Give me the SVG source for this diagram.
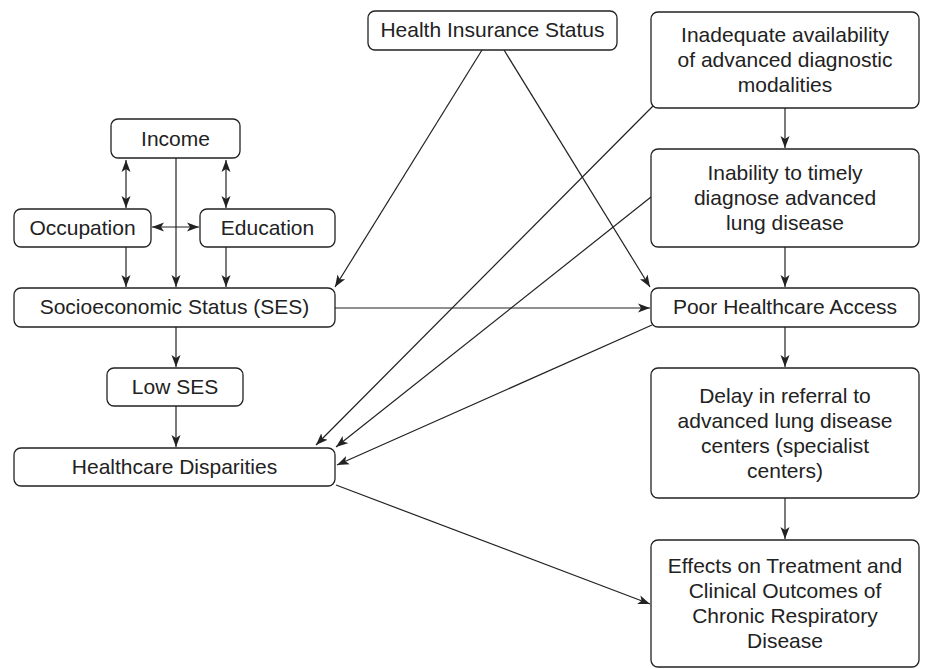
<svg xmlns="http://www.w3.org/2000/svg" width="926" height="669" viewBox="0 0 926 669">
<style>
.box{fill:#fff;stroke:#222;stroke-width:1.3}
.t{font-family:"Liberation Sans",Arial,sans-serif;font-size:21px;fill:#222;text-anchor:middle}
.c line{stroke:#222;stroke-width:1.2;fill:none}
</style>
<defs>
<marker id="ah" markerUnits="userSpaceOnUse" viewBox="0 0 12 10" markerWidth="12" markerHeight="10" refX="12" refY="5" orient="auto-start-reverse">
<path d="M0,0.5 L12,5 L0,9.5 L3,5 z" fill="#222"/>
</marker>
</defs>
<rect width="926" height="669" fill="#fff"/>
<g class="c" id="connectors">
<line x1="126" y1="160" x2="126" y2="208" marker-start="url(#ah)" marker-end="url(#ah)"/>
<line x1="226" y1="160" x2="226" y2="208" marker-start="url(#ah)" marker-end="url(#ah)"/>
<line x1="152" y1="227" x2="199" y2="227" marker-start="url(#ah)" marker-end="url(#ah)"/>
<line x1="176" y1="158" x2="176" y2="287" marker-end="url(#ah)"/>
<line x1="126" y1="247" x2="126" y2="287" marker-end="url(#ah)"/>
<line x1="226" y1="247" x2="226" y2="287" marker-end="url(#ah)"/>
<line x1="482" y1="50" x2="335" y2="287" marker-end="url(#ah)"/>
<line x1="504" y1="50" x2="650" y2="287" marker-end="url(#ah)"/>
<line x1="335" y1="308" x2="650" y2="308" marker-end="url(#ah)"/>
<line x1="176" y1="327" x2="176" y2="367" marker-end="url(#ah)"/>
<line x1="176" y1="406" x2="176" y2="447" marker-end="url(#ah)"/>
<line x1="653" y1="106" x2="316" y2="445" marker-end="url(#ah)"/>
<line x1="651" y1="197" x2="336" y2="447" marker-end="url(#ah)"/>
<line x1="652" y1="325" x2="337" y2="465" marker-end="url(#ah)"/>
<line x1="785" y1="108" x2="785" y2="148" marker-end="url(#ah)"/>
<line x1="785" y1="247" x2="785" y2="287" marker-end="url(#ah)"/>
<line x1="785" y1="327" x2="785" y2="367" marker-end="url(#ah)"/>
<line x1="785" y1="498" x2="785" y2="539" marker-end="url(#ah)"/>
<line x1="336" y1="485" x2="650" y2="604" marker-end="url(#ah)"/>
</g>
<g id="income"><rect class="box" x="111" y="119" width="129" height="39" rx="7"/><text class="t" x="175.5" y="146">Income</text></g>
<g id="occupation"><rect class="box" x="14" y="209" width="137" height="38" rx="7"/><text class="t" x="82.5" y="235">Occupation</text></g>
<g id="education"><rect class="box" x="200" y="209" width="135" height="38" rx="7"/><text class="t" x="267.5" y="235">Education</text></g>
<g id="ses"><rect class="box" x="14" y="288" width="321" height="39" rx="7"/><text class="t" x="174.5" y="314">Socioeconomic Status (SES)</text></g>
<g id="lowses"><rect class="box" x="107" y="368" width="136" height="38" rx="7"/><text class="t" x="175" y="394">Low SES</text></g>
<g id="disparities"><rect class="box" x="14" y="448" width="321" height="38" rx="7"/><text class="t" x="174.5" y="474">Healthcare Disparities</text></g>
<g id="insurance"><rect class="box" x="368" y="11" width="249" height="39" rx="7"/><text class="t" x="492.5" y="37">Health Insurance Status</text></g>
<g id="inadequate"><rect class="box" x="651" y="12" width="268" height="96" rx="7"/><text class="t"><tspan x="785" y="42">Inadequate availability</tspan><tspan x="785" y="67">of advanced diagnostic</tspan><tspan x="785" y="92">modalities</tspan></text></g>
<g id="inability"><rect class="box" x="651" y="149" width="268" height="98" rx="7"/><text class="t"><tspan x="785" y="180">Inability to timely</tspan><tspan x="785" y="205">diagnose advanced</tspan><tspan x="785" y="230">lung disease</tspan></text></g>
<g id="access"><rect class="box" x="651" y="288" width="268" height="39" rx="7"/><text class="t" x="785" y="314">Poor Healthcare Access</text></g>
<g id="delay"><rect class="box" x="651" y="368" width="268" height="130" rx="7"/><text class="t"><tspan x="785" y="403">Delay in referral to</tspan><tspan x="785" y="428">advanced lung disease</tspan><tspan x="785" y="453">centers (specialist</tspan><tspan x="785" y="478">centers)</tspan></text></g>
<g id="effects"><rect class="box" x="651" y="540" width="268" height="127" rx="7"/><text class="t"><tspan x="785" y="573">Effects on Treatment and</tspan><tspan x="785" y="598">Clinical Outcomes of</tspan><tspan x="785" y="623">Chronic Respiratory</tspan><tspan x="785" y="648">Disease</tspan></text></g>
</svg>
